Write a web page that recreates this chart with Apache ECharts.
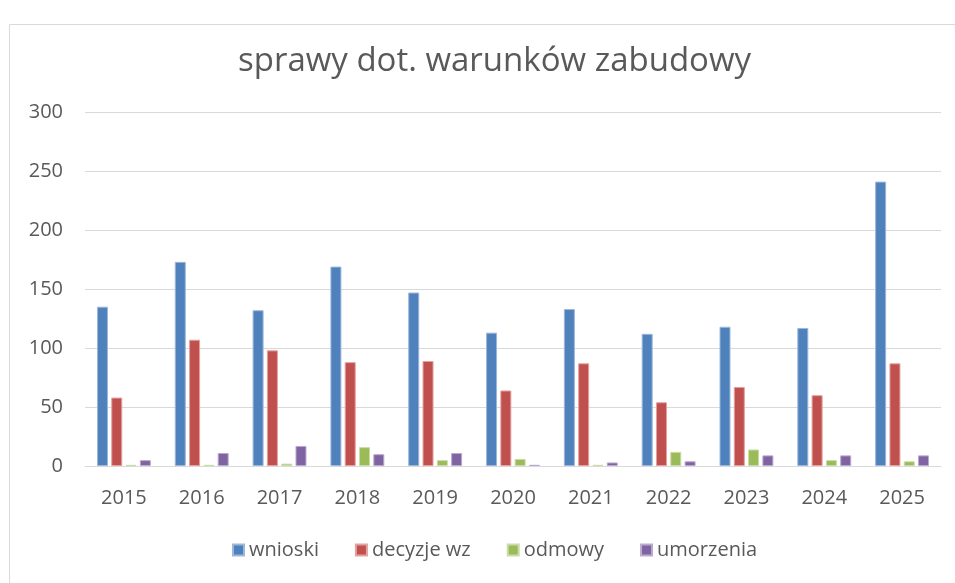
<!DOCTYPE html>
<html>
<head>
<meta charset="utf-8">
<script src="https://cdn.jsdelivr.net/npm/echarts@6/dist/echarts.min.js"></script>
<style>
  html, body { margin: 0; padding: 0; background: #fff; }
  #chart { width: 955px; height: 583px; }
</style>
</head>
<body>
<div id="chart"></div>
<script>
const years = ['2015', '2016', '2017', '2018', '2019', '2020', '2021', '2022', '2023', '2024', '2025'];
const wnioski = [135, 173, 132, 169, 147, 113, 133, 112, 118, 117, 241];
const decyzje = [58, 107, 98, 88, 89, 64, 87, 54, 67, 60, 87];
const odmowy = [1, 1, 2, 16, 5, 6, 1, 12, 14, 5, 4];
const umorzenia = [5, 11, 17, 10, 11, 1, 3, 4, 9, 9, 9];
const yTicks = [0, 50, 100, 150, 200, 250, 300];

const font = '"Open Sans", "Noto Sans", sans-serif';
const textColor = '#595959';

const makeSeries = (name, data, color, border) => ({
    name,
    type: 'bar',
    data,
    barWidth: 11,
    barGap: '30%',
    itemStyle: { color, borderColor: border, borderWidth: 1 }
});

const chart = echarts.init(document.getElementById('chart'));
chart.setOption({
    animation: false,
    graphic: [{
        type: 'rect',
        shape: { x: 9.5, y: 24.5, width: 960, height: 600 },
        style: { fill: 'none', stroke: '#D9D9D9', lineWidth: 1 }
    }],
    title: {
        text: 'sprawy dot. warunków zabudowy',
        left: 233,
        top: 40,
        textStyle: { fontFamily: font, fontSize: 33, fontWeight: 'normal', color: textColor }
    },
    legend: {
        bottom: 18,
        left: 227,
        itemWidth: 11,
        itemHeight: 11,
        itemGap: 36,
        icon: 'rect',
        textStyle: { fontFamily: font, fontSize: 20, color: textColor }
    },
    grid: { left: 85, right: 14, top: 112, bottom: 117, containLabel: false },
    xAxis: {
        type: 'category',
        data: years,
        axisLine: { lineStyle: { color: '#D9D9D9' } },
        axisTick: { show: false },
        axisLabel: { fontFamily: font, fontSize: 20, color: textColor, margin: 22 }
    },
    yAxis: {
        type: 'value',
        min: yTicks[0],
        max: yTicks[yTicks.length - 1],
        interval: 50,
        axisLine: { show: false },
        axisTick: { show: false },
        splitLine: { lineStyle: { color: '#D9D9D9' } },
        axisLabel: { fontFamily: font, fontSize: 20, color: textColor, margin: 22 }
    },
    series: [
        makeSeries('wnioski', wnioski, '#4F81BD', '#9DB7DA'),
        makeSeries('decyzje wz', decyzje, '#C0504D', '#E3A19F'),
        makeSeries('odmowy', odmowy, '#9BBB59', '#CADDA8'),
        makeSeries('umorzenia', umorzenia, '#8064A2', '#BBA9D1')
    ]
});
</script>
</body>
</html>
